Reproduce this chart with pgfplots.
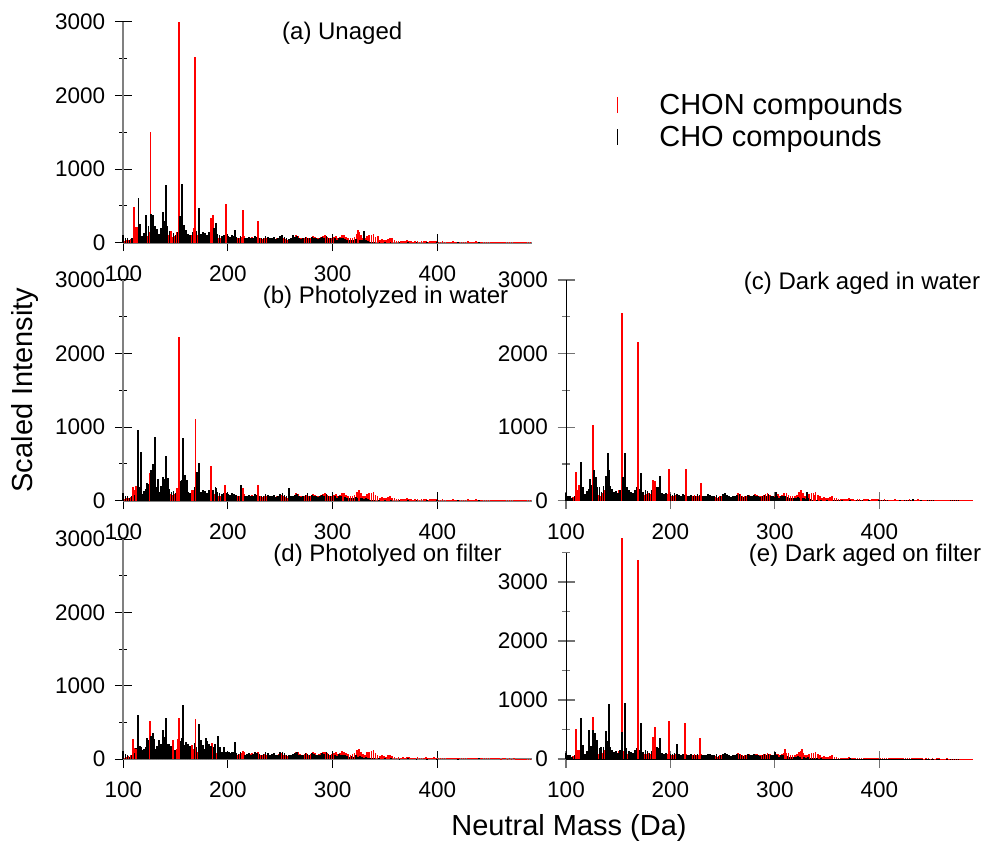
\documentclass[border=0pt]{standalone}
\usepackage{pgfplots}
\pgfplotsset{compat=1.18}
\usepackage{pgfplotstable}
\usepackage{fontspec}
\setmainfont{Liberation Sans}

% shared low-level background sticks (CHO at even, CHON at odd nominal masses)
\pgfplotstableread{
x y
100 110
102 70
104 60
106 30
108 60
110 80
112 150
114 120
116 180
118 90
120 130
122 160
124 220
126 150
128 260
130 140
132 180
134 120
136 200
138 260
140 300
142 200
144 160
146 120
148 130
150 110
152 150
154 250
156 280
158 190
160 140
162 120
164 100
166 150
168 180
170 160
172 140
174 120
176 150
178 130
180 110
182 140
184 160
186 150
188 180
190 120
192 100
194 90
196 110
198 100
200 90
202 80
204 100
206 90
208 80
210 70
212 90
214 80
216 60
218 70
220 80
222 60
224 70
226 90
228 80
230 70
232 60
234 70
236 90
238 80
240 60
242 70
244 80
246 50
248 60
250 90
252 100
254 80
256 60
258 50
260 60
262 70
264 80
266 90
268 60
270 50
272 60
274 80
276 70
278 60
280 80
282 70
284 60
286 50
288 60
290 80
292 70
294 90
296 70
298 60
300 50
302 60
304 40
306 70
308 60
310 60
312 50
314 40
316 30
318 40
320 30
322 50
324 30
326 40
328 30
330 20
332 30
334 20
336 10
338 15
340 10
344 10
350 8
356 8
364 6
372 10
380 5
390 5
400 6
420 5
440 8
}\choBase

\pgfplotstableread{
x y
101 20
103 30
105 40
107 50
109 60
111 150
113 150
115 90
117 60
119 50
121 70
123 90
125 140
127 110
129 120
131 80
133 70
135 110
137 150
139 140
141 170
143 100
145 90
147 80
149 90
151 140
153 120
155 130
157 100
159 90
161 80
163 70
165 110
167 140
169 120
171 100
173 90
175 80
177 90
179 100
181 90
183 110
185 90
187 90
189 80
191 70
193 60
195 80
197 90
199 70
201 60
203 70
205 80
207 60
209 60
211 70
213 80
215 90
217 60
219 50
221 70
223 80
225 60
227 70
229 90
231 60
233 50
235 70
237 60
239 50
241 60
243 50
245 40
247 60
249 70
251 80
253 60
255 50
257 40
259 50
261 60
263 70
265 100
267 90
269 70
271 60
273 70
275 80
277 60
279 70
281 90
283 80
285 60
287 70
289 80
291 90
293 100
295 80
297 60
299 70
301 80
303 90
305 70
307 80
309 110
311 100
313 80
315 70
317 60
319 70
321 80
323 120
325 140
327 100
329 70
331 60
333 90
335 100
337 110
339 120
341 80
343 60
345 40
347 50
349 40
351 30
353 50
355 60
357 40
359 30
361 20
363 25
365 20
367 25
369 20
371 30
373 25
375 20
377 15
379 20
381 25
383 15
385 20
387 18
389 22
391 15
393 18
395 20
397 25
399 20
401 15
403 12
405 18
407 15
409 10
411 12
413 15
415 20
417 12
419 10
421 15
423 12
425 10
427 15
429 18
431 12
433 10
435 15
437 20
439 12
441 10
443 8
445 12
447 10
449 8
451 10
453 8
455 10
457 12
459 8
461 6
463 8
465 10
467 6
469 8
471 6
473 8
475 6
477 5
479 6
481 5
483 6
485 5
487 4
489 5
}\chonBase

\pgfplotsset{
  panel/.style={
    scale only axis, enlargelimits=false, clip=false,
    xmin=100, xmax=490, ymin=0, ymax=3000,
    axis lines=left, axis line style={-},
    xtick={100,200,300,400}, ytick={0,1000,2000,3000},
    minor ytick={500,1500,2500},
    tick align=center, major tick length=17pt, minor tick length=8pt,
    tick label style={font=\fontsize{22.5}{27}\selectfont},
    xticklabel style={yshift=-11pt},
    yticklabel style={xshift=-6pt},
    /pgf/number format/assume math mode=true,
    /pgf/number format/1000 sep={},
  },
  leftpanel/.style={panel, width=408.2pt,
    axis line style={-, draw=black!50, line width=1.8pt},
    tick style={black, line width=1pt}},
  rightpanel/.style={panel, width=407.3pt,
    axis line style={-, draw=black, line width=1pt},
    tick style={black!55, line width=1.2pt}},
  chon/.style={color=red, ycomb, line width=1.7pt, no markers},
  cho/.style={color=black, ycomb, line width=1.7pt, no markers},
  peak/.style={line width=1.9pt},
}

\begin{document}
\begin{tikzpicture}
\path[use as bounding box] (0,0) rectangle (984pt,841pt);

% (a) Unaged
\begin{axis}[leftpanel, at={(123.3pt,598.3pt)}, anchor=south west, height=221pt,
  legend style={draw=none, fill=none, at={(axis description cs:1.2009,0.5507)}, anchor=west,
    font=\fontsize{29}{33}\selectfont, row sep=5pt,
    /tikz/every odd column/.append style={column sep=39pt}},
  legend cell align=left,
  legend image code/.code={\draw[#1, line width=1.6pt] (0pt,-8pt) -- (0pt,8pt);}]
\addplot[chon, forget plot] table[x=x,y=y] {\chonBase};
\addplot[cho, forget plot] table[x=x,y=y] {\choBase};
\addplot[chon, peak] coordinates {(110,490) (112,210) (113,215) (126,1500) (145.5,165) (153.5,3000) (167.5,200) (168.5,2525) (183.5,335) (185.5,370) (198,520) (214.5,443) (228.5,295) (324.6,172) (330,110) (343,95) (357,70)};
\addplot[cho, peak] coordinates {(114.5,606) (116,250) (122,375) (126.5,390) (128.7,370) (130,226) (132,180) (138,420) (140.5,783) (142,230) (154,362) (156.5,796) (158,240) (160,172) (172,466) (176.5,150) (186.6,195) (188.6,262) (206.7,172) (252,110) (262,100) (330.3,163)};
\addlegendentry{CHON compounds}
\addlegendentry{CHO compounds}
\end{axis}

% (b) Photolyzed in water
\begin{axis}[leftpanel, at={(123.3pt,340.3pt)}, anchor=south west, height=221pt]
\addplot[chon] table[x=x,y=y] {\chonBase};
\addplot[cho] table[x=x,y=y] {\choBase};
\addplot[chon, peak] coordinates {(109.6,190) (111.8,200) (125.5,371) (151,167) (153.5,2226) (166,145) (169,1104) (183.5,470) (197.2,217) (214.6,167) (228.4,212) (310,90) (325,80)};
\addplot[cho, peak] coordinates {(114.4,960) (116.6,656) (122.3,235) (126.5,416) (128,500) (130.3,860) (132.8,290) (138,326) (140.5,611) (142.4,303) (154.8,271) (156.7,846) (159,348) (160.5,280) (170.7,394) (172.3,516) (189,167) (212.4,212) (258.3,167) (276,108)};
\end{axis}

% (c) Dark aged in water
\begin{axis}[rightpanel, at={(566pt,340.3pt)}, anchor=south west, height=220.7pt]
\addplot[chon] table[x=x,y=y] {\chonBase};
\addplot[cho] table[x=x,y=y] {\choBase};
\addplot[chon, peak] coordinates {(109.9,394) (112.1,213) (125.5,1032) (153.6,2555) (168.9,2153) (183.3,280) (185.3,271) (198.3,430) (214.6,425) (228.9,235) (325,100) (338,80)};
\addplot[cho, peak] coordinates {(114,530) (116,190) (122.7,290) (126.5,416) (128.4,317) (130,190) (138,335) (140.2,652) (141.5,416) (154.6,317) (156.8,643) (158.7,190) (172.1,371) (187,181) (189.7,335) (301.4,122) (330.5,122) (432.5,25)};
\end{axis}

% (d) Photolyed on filter
\begin{axis}[leftpanel, at={(123.3pt,82pt)}, anchor=south west, height=220pt]
\addplot[chon] table[x=x,y=y] {\chonBase};
\addplot[cho] table[x=x,y=y] {\choBase};
\addplot[chon, peak] coordinates {(109.6,268) (111.8,132) (125.5,523) (147.2,259) (152,273) (153.5,555) (166,191) (169,545) (185,214) (214.6,114)};
\addplot[cho, peak] coordinates {(114.4,600) (116.6,168) (118,123) (122.3,282) (124,259) (126.5,314) (128,359) (129.6,268) (132.5,123) (134.4,259) (138,395) (140.5,564) (142.4,191) (144,200) (146,180) (149.7,123) (154.8,214) (156.7,736) (160,230) (162,200) (164,180) (168,220) (172.3,477) (174,260) (176.5,191) (178.7,282) (180,240) (182,200) (184,180) (186.6,159) (188,200) (190.2,314) (192,170) (196,160) (201,100) (206.7,236)};
\end{axis}

% (e) Dark aged on filter
\begin{axis}[rightpanel, at={(566pt,82pt)}, anchor=south west, height=221.25pt,
  ymax=3750, minor ytick={500,1500,2500,3500}, y axis line style={draw=none}]
\draw[black, line width=1pt] (axis cs:100,0) -- (axis cs:100,3500);
\addplot[chon] table[x=x,y=y] {\chonBase};
\addplot[cho] table[x=x,y=y] {\choBase};
\addplot[chon, peak] coordinates {(109.9,503) (111.5,153) (125.5,718) (153.6,3740) (168.9,3373) (183,379) (185.3,537) (198.3,644) (214.3,605) (228.6,350) (309.7,164) (313,110) (325.7,164)};
\addplot[cho, peak] coordinates {(114,689) (116.3,237) (122,492) (126.2,492) (127.5,446) (129.7,322) (133.8,209) (138.6,475) (140.9,932) (153.9,463) (156.5,944) (172.1,605) (187,209) (189.7,362) (206.3,254) (300,120)};
\end{axis}

% panel titles and axis titles
\begin{scope}[every node/.style={inner sep=0pt, font=\fontsize{24}{28}\selectfont}]
\node at (342.2pt,808pt) {(a) Unaged};
\node at (385.5pt,544pt) {(b) Photolyzed in water};
\node at (862pt,558pt) {(c) Dark aged in water};
\node at (387.5pt,286pt) {(d) Photolyed on filter};
\node at (865pt,286pt) {(e) Dark aged on filter};
\end{scope}
\node[font=\fontsize{29}{33}\selectfont, rotate=90] at (25pt,451pt) {Scaled Intensity};
\node[font=\fontsize{29}{33}\selectfont] at (569pt,13pt) {Neutral Mass (Da)};
\end{tikzpicture}
\end{document}
